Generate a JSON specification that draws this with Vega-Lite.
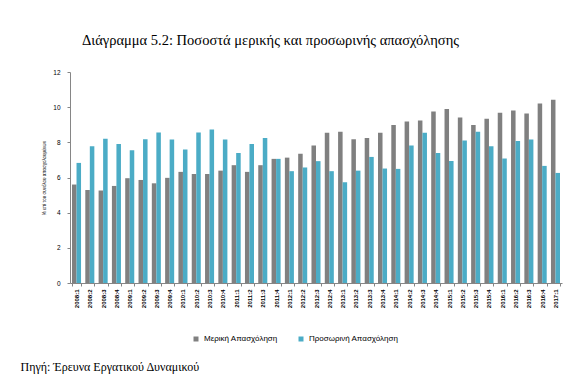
{
  "$schema": "https://vega.github.io/schema/vega-lite/v6.json",
  "width": 492,
  "height": 211,
  "autosize": "none",
  "padding": {"left": 70, "top": 72, "right": 12, "bottom": 105},
  "background": "white",
  "title": {
    "text": "Διάγραμμα 5.2: Ποσοστά μερικής και προσωρινής απασχόλησης",
    "anchor": "start",
    "frame": "group",
    "dx": 12,
    "offset": 10,
    "baseline": "alphabetic",
    "font": "Liberation Serif",
    "fontSize": 14.5,
    "fontWeight": "normal",
    "color": "#000000"
  },
  "data": {
    "values": [
      {"q": "2008:1", "Μερική Απασχόληση": 5.6, "Προσωρινή Απασχόληση": 6.83},
      {"q": "2008:2", "Μερική Απασχόληση": 5.29, "Προσωρινή Απασχόληση": 7.78},
      {"q": "2008:3", "Μερική Απασχόληση": 5.26, "Προσωρινή Απασχόληση": 8.2},
      {"q": "2008:4", "Μερική Απασχόληση": 5.52, "Προσωρινή Απασχόληση": 7.91},
      {"q": "2009:1", "Μερική Απασχόληση": 5.96, "Προσωρινή Απασχόληση": 7.55},
      {"q": "2009:2", "Μερική Απασχόληση": 5.86, "Προσωρινή Απασχόληση": 8.18},
      {"q": "2009:3", "Μερική Απασχόληση": 5.67, "Προσωρινή Απασχόληση": 8.56},
      {"q": "2009:4", "Μερική Απασχόληση": 5.98, "Προσωρινή Απασχόληση": 8.16},
      {"q": "2010:1", "Μερική Απασχόληση": 6.32, "Προσωρινή Απασχόληση": 7.59},
      {"q": "2010:2", "Μερική Απασχόληση": 6.2, "Προσωρινή Απασχόληση": 8.56},
      {"q": "2010:3", "Μερική Απασχόληση": 6.2, "Προσωρινή Απασχόληση": 8.73},
      {"q": "2010:4", "Μερική Απασχόληση": 6.39, "Προσωρινή Απασχόληση": 8.16},
      {"q": "2011:1", "Μερική Απασχόληση": 6.7, "Προσωρινή Απασχόληση": 7.4},
      {"q": "2011:2", "Μερική Απασχόληση": 6.32, "Προσωρινή Απασχόληση": 7.91},
      {"q": "2011:3", "Μερική Απασχόληση": 6.7, "Προσωρινή Απασχόληση": 8.24},
      {"q": "2011:4", "Μερική Απασχόληση": 7.06, "Προσωρινή Απασχόληση": 7.06},
      {"q": "2012:1", "Μερική Απασχόληση": 7.13, "Προσωρινή Απασχόληση": 6.36},
      {"q": "2012:2", "Μερική Απασχόληση": 7.35, "Προσωρινή Απασχόληση": 6.57},
      {"q": "2012:3", "Μερική Απασχόληση": 7.82, "Προσωρινή Απασχόληση": 6.93},
      {"q": "2012:4", "Μερική Απασχόληση": 8.54, "Προσωρινή Απασχόληση": 6.36},
      {"q": "2013:1", "Μερική Απασχόληση": 8.6, "Προσωρινή Απασχόληση": 5.73},
      {"q": "2013:2", "Μερική Απασχόληση": 8.18, "Προσωρινή Απασχόληση": 6.39},
      {"q": "2013:3", "Μερική Απασχόληση": 8.25, "Προσωρινή Απασχόληση": 7.17},
      {"q": "2013:4", "Μερική Απασχόληση": 8.54, "Προσωρινή Απασχόληση": 6.51},
      {"q": "2014:1", "Μερική Απασχόληση": 8.99, "Προσωρινή Απασχόληση": 6.49},
      {"q": "2014:2", "Μερική Απασχόληση": 9.18, "Προσωρινή Απασχόληση": 7.82},
      {"q": "2014:3", "Μερική Απασχόληση": 9.24, "Προσωρινή Απασχόληση": 8.54},
      {"q": "2014:4", "Μερική Απασχόληση": 9.75, "Προσωρινή Απασχόληση": 7.4},
      {"q": "2015:1", "Μερική Απασχόληση": 9.89, "Προσωρινή Απασχόληση": 6.94},
      {"q": "2015:2", "Μερική Απασχόληση": 9.41, "Προσωρινή Απασχόληση": 8.1},
      {"q": "2015:3", "Μερική Απασχόληση": 8.99, "Προσωρινή Απασχόληση": 8.6},
      {"q": "2015:4", "Μερική Απασχόληση": 9.34, "Προσωρινή Απασχόληση": 7.78},
      {"q": "2016:1", "Μερική Απασχόληση": 9.68, "Προσωρινή Απασχόληση": 7.08},
      {"q": "2016:2", "Μερική Απασχόληση": 9.81, "Προσωρινή Απασχόληση": 8.07},
      {"q": "2016:3", "Μερική Απασχόληση": 9.64, "Προσωρινή Απασχόληση": 8.16},
      {"q": "2016:4", "Μερική Απασχόληση": 10.21, "Προσωρινή Απασχόληση": 6.66},
      {"q": "2017:1", "Μερική Απασχόληση": 10.42, "Προσωρινή Απασχόληση": 6.26}
    ]
  },
  "transform": [
    {"fold": ["Μερική Απασχόληση", "Προσωρινή Απασχόληση"], "as": ["series", "value"]}
  ],
  "mark": {"type": "bar"},
  "encoding": {
    "x": {
      "field": "q",
      "type": "ordinal",
      "sort": null,
      "scale": {"paddingInner": 0.32, "paddingOuter": 0.15},
      "axis": {
        "title": "Πηγή: Έρευνα Εργατικού Δυναμικού",
        "titleX": -50,
        "titleY": 87,
        "titleAlign": "left",
        "titleBaseline": "alphabetic",
        "titleAngle": 0,
        "titleFont": "Liberation Serif",
        "titleFontSize": 12,
        "titleFontWeight": "normal",
        "titleColor": "#000000",
        "labelAngle": -90,
        "labelFont": "Liberation Sans",
        "labelFontSize": 6,
        "labelFontWeight": "bold",
        "labelColor": "#000000",
        "labelPadding": 3,
        "tickBand": "extent",
        "tickSize": 3,
        "tickColor": "#868686",
        "domainColor": "#868686",
        "grid": false
      }
    },
    "xOffset": {"field": "series", "type": "nominal"},
    "y": {
      "field": "value",
      "type": "quantitative",
      "scale": {"domain": [0, 12]},
      "axis": {
        "title": "% επί του συνόλου απασχολουμένων",
        "titleFont": "Liberation Sans",
        "titleFontSize": 4.5,
        "titleFontWeight": "normal",
        "titleColor": "#000000",
        "titlePadding": 6,
        "values": [0, 2, 4, 6, 8, 10, 12],
        "labelFont": "Liberation Sans",
        "labelFontSize": 6.5,
        "labelColor": "#000000",
        "labelPadding": 7,
        "tickSize": 3,
        "tickColor": "#868686",
        "domainColor": "#868686",
        "grid": false
      }
    },
    "color": {
      "field": "series",
      "type": "nominal",
      "scale": {"domain": ["Μερική Απασχόληση", "Προσωρινή Απασχόληση"], "range": ["#808080", "#4bacc6"]},
      "legend": {
        "title": null,
        "orient": "none",
        "direction": "horizontal",
        "legendX": 122,
        "legendY": 263,
        "symbolType": "square",
        "symbolSize": 25,
        "symbolStrokeWidth": 0,
        "labelFont": "Liberation Sans",
        "labelFontSize": 8,
        "labelColor": "#000000",
        "labelOffset": 4,
        "columnPadding": 19
      }
    }
  },
  "config": {"view": {"stroke": null}}
}
